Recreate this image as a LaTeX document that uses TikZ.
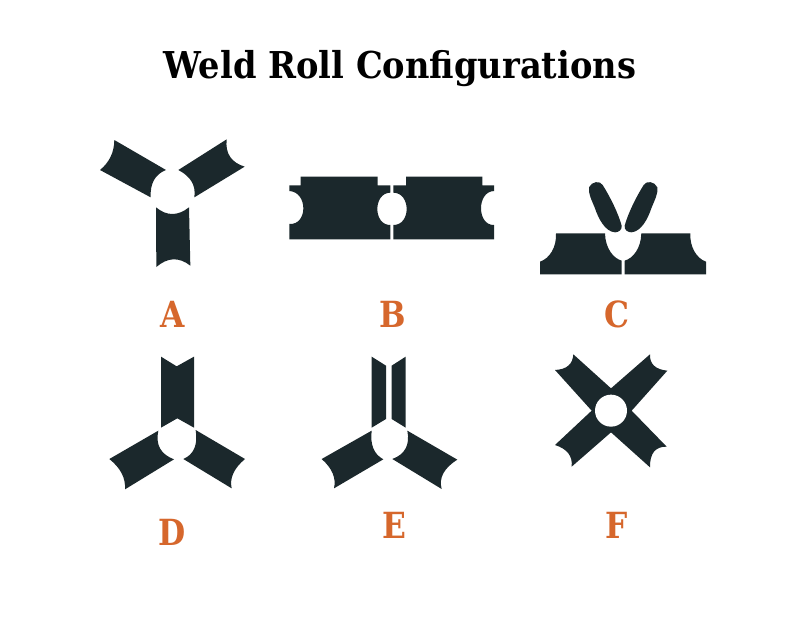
\documentclass[tikz,border=0pt]{standalone}
\usepackage{fontspec}
\setmainfont{DejaVu Serif}
\definecolor{rollc}{HTML}{1B282C}
\definecolor{labc}{HTML}{D6672C}
\def\vc(#1,#2,#3,#4,#5,#6){ .. controls ({#1+4/3*(#3-(#1+#5)/2)},{#2+4/3*(#4-(#2+#6)/2)}) and ({#5+4/3*(#3-(#1+#5)/2)},{#6+4/3*(#4-(#2+#6)/2)}) .. (#5,#6)}
\def\vb(#1,#2,#3,#4,#5,#6){ .. controls ({(2*#1+#5)/3+4/3*(#3-(#1+#5)/2)},{(2*#2+#6)/3+4/3*(#4-(#2+#6)/2)}) and ({(#1+2*#5)/3+4/3*(#3-(#1+#5)/2)},{(#2+2*#6)/3+4/3*(#4-(#2+#6)/2)}) .. (#5,#6)}
\newcommand{\narrowlab}[1]{\scalebox{0.87}[1]{#1}}
\tikzset{
 roll/.style={fill=rollc},
 zoomed/.style={x=0.33333pt,y=-0.33333pt},
 lab/.style={text=labc,font=\fontsize{36}{36}\selectfont\bfseries,inner sep=0pt,anchor=center},
 title/.style={text=black,font=\fontsize{37}{37}\selectfont\bfseries,inner sep=0pt,anchor=base}
}
\begin{document}
\begin{tikzpicture}[x=1pt,y=-1pt]
\useasboundingbox (0,0) rectangle (800,618);
\fill[white] (0,0) rectangle (800,618);
\node[title] (t) at (400,78) {\scalebox{0.91}[1]{Weld Roll Configurations}};
\node[lab] (la) at (173,314) {\narrowlab{A}};
\node[lab] (lb) at (392.5,314) {\narrowlab{B}};
\node[lab] (lc) at (617,314) {\narrowlab{C}};
\node[lab] (ld) at (172.5,532) {\narrowlab{D}};
\node[lab] (le) at (394.5,525.5) {\narrowlab{E}};
\node[lab] (lf) at (617,525.5) {\narrowlab{F}};
% A
\begin{scope}[shift={(80,120)},zoomed]
\fill[roll] (103,60) -- (258,150) \vb(258,150,222,180,212,232) -- (60,150) \vb(60,150,92,110,103,60) -- cycle;
\fill[roll] (440,58) \vb(440,58,450,110,494,140) -- (343,232) \vb(343,232,335,185,295,150) -- cycle;
\fill[roll] (228,262) \vb(228,262,277,282,327,262) -- (331,437) \vb(331,437,280,418,229,441) -- cycle;
\end{scope}
% B
\begin{scope}[shift={(280,160)},zoomed]
\fill[roll] (62,50) -- (293,50) -- (293,76) -- (331,76) -- (331,98) \vc(331,98,292,147,331,195) -- (331,238) -- (28,238) -- (28,192) \vc(28,192,70,145,28,93) -- (28,76) -- (62,76) -- cycle;
\fill[roll] (378,50) -- (607,50) -- (607,76) -- (642,76) -- (642,93) \vc(642,93,603,145,642,195) -- (642,238) -- (340,238) -- (340,195) \vc(340,195,380,147,340,98) -- (340,76) -- (378,76) -- cycle;
\end{scope}
% C
\begin{scope}[shift={(530,170)},zoomed]
\fill[roll] (177,52) .. controls (185,34) and (210,31) .. (218,45) .. controls (240,80) and (265,130) .. (275,167) .. controls (277,180) and (265,187) .. (255,187) .. controls (225,185) and (205,145) .. (195,115) .. controls (185,90) and (174,70) .. (177,52) -- cycle;
\fill[roll] (382,52) .. controls (374,34) and (349,31) .. (341,45) .. controls (319,80) and (294,130) .. (284,167) .. controls (282,180) and (294,187) .. (304,187) .. controls (334,185) and (354,145) .. (364,115) .. controls (374,90) and (385,70) .. (382,52) -- cycle;
\fill[roll] (78,190) -- (225,190) .. controls (226,235) and (250,265) .. (275,272) -- (275,313) -- (30,313) -- (30,275) .. controls (60,265) and (80,230) .. (78,190) -- cycle;
\fill[roll] (481,190) -- (334,190) .. controls (333,235) and (309,265) .. (284,272) -- (284,313) -- (528,313) -- (528,275) .. controls (499,265) and (479,230) .. (481,190) -- cycle;
\end{scope}
% D
\begin{scope}[shift={(100,345)},zoomed]
\fill[roll] (183,35) -- (230,64) -- (282,35) -- (282,248) -- (232,220) -- (183,248) -- cycle;
\fill[roll] (175,257) \vb(175,257,180,310,222,343) -- (75,433) \vb(75,433,65,385,28,342) -- cycle;
\fill[roll] (287,255) \vb(287,255,283,310,250,342) -- (395,430) \vb(395,430,400,385,435,342) -- cycle;
\end{scope}
% E
\begin{scope}[shift={(310,345)},zoomed]
\fill[roll] (185,35) -- (228,62) -- (228,222) -- (185,248) -- cycle;
\fill[roll] (245,62) -- (287,35) -- (287,248) -- (245,222) -- cycle;
\fill[roll] (185,257) \vb(185,257,190,310,220,343) -- (72,430) \vb(72,430,68,385,35,342) -- cycle;
\fill[roll] (292,257) \vb(292,257,287,310,247,342) -- (395,432) \vb(395,432,400,385,442,344) -- cycle;
\end{scope}
% F
\begin{scope}[shift={(540,345)},zoomed]
\fill[roll] (100,28) -- (213,130) -- (330,28) \vb(330,28,342,62,382,77) -- (275,197) -- (380,305) \vb(380,305,342,320,330,367) -- (213,262) -- (95,365) \vb(95,365,85,325,45,300) -- (155,197) -- (45,75) \vb(45,75,85,62,100,28) -- cycle;
\fill[white] (213,197) circle[radius=16pt];
\end{scope}
\end{tikzpicture}
\end{document}
